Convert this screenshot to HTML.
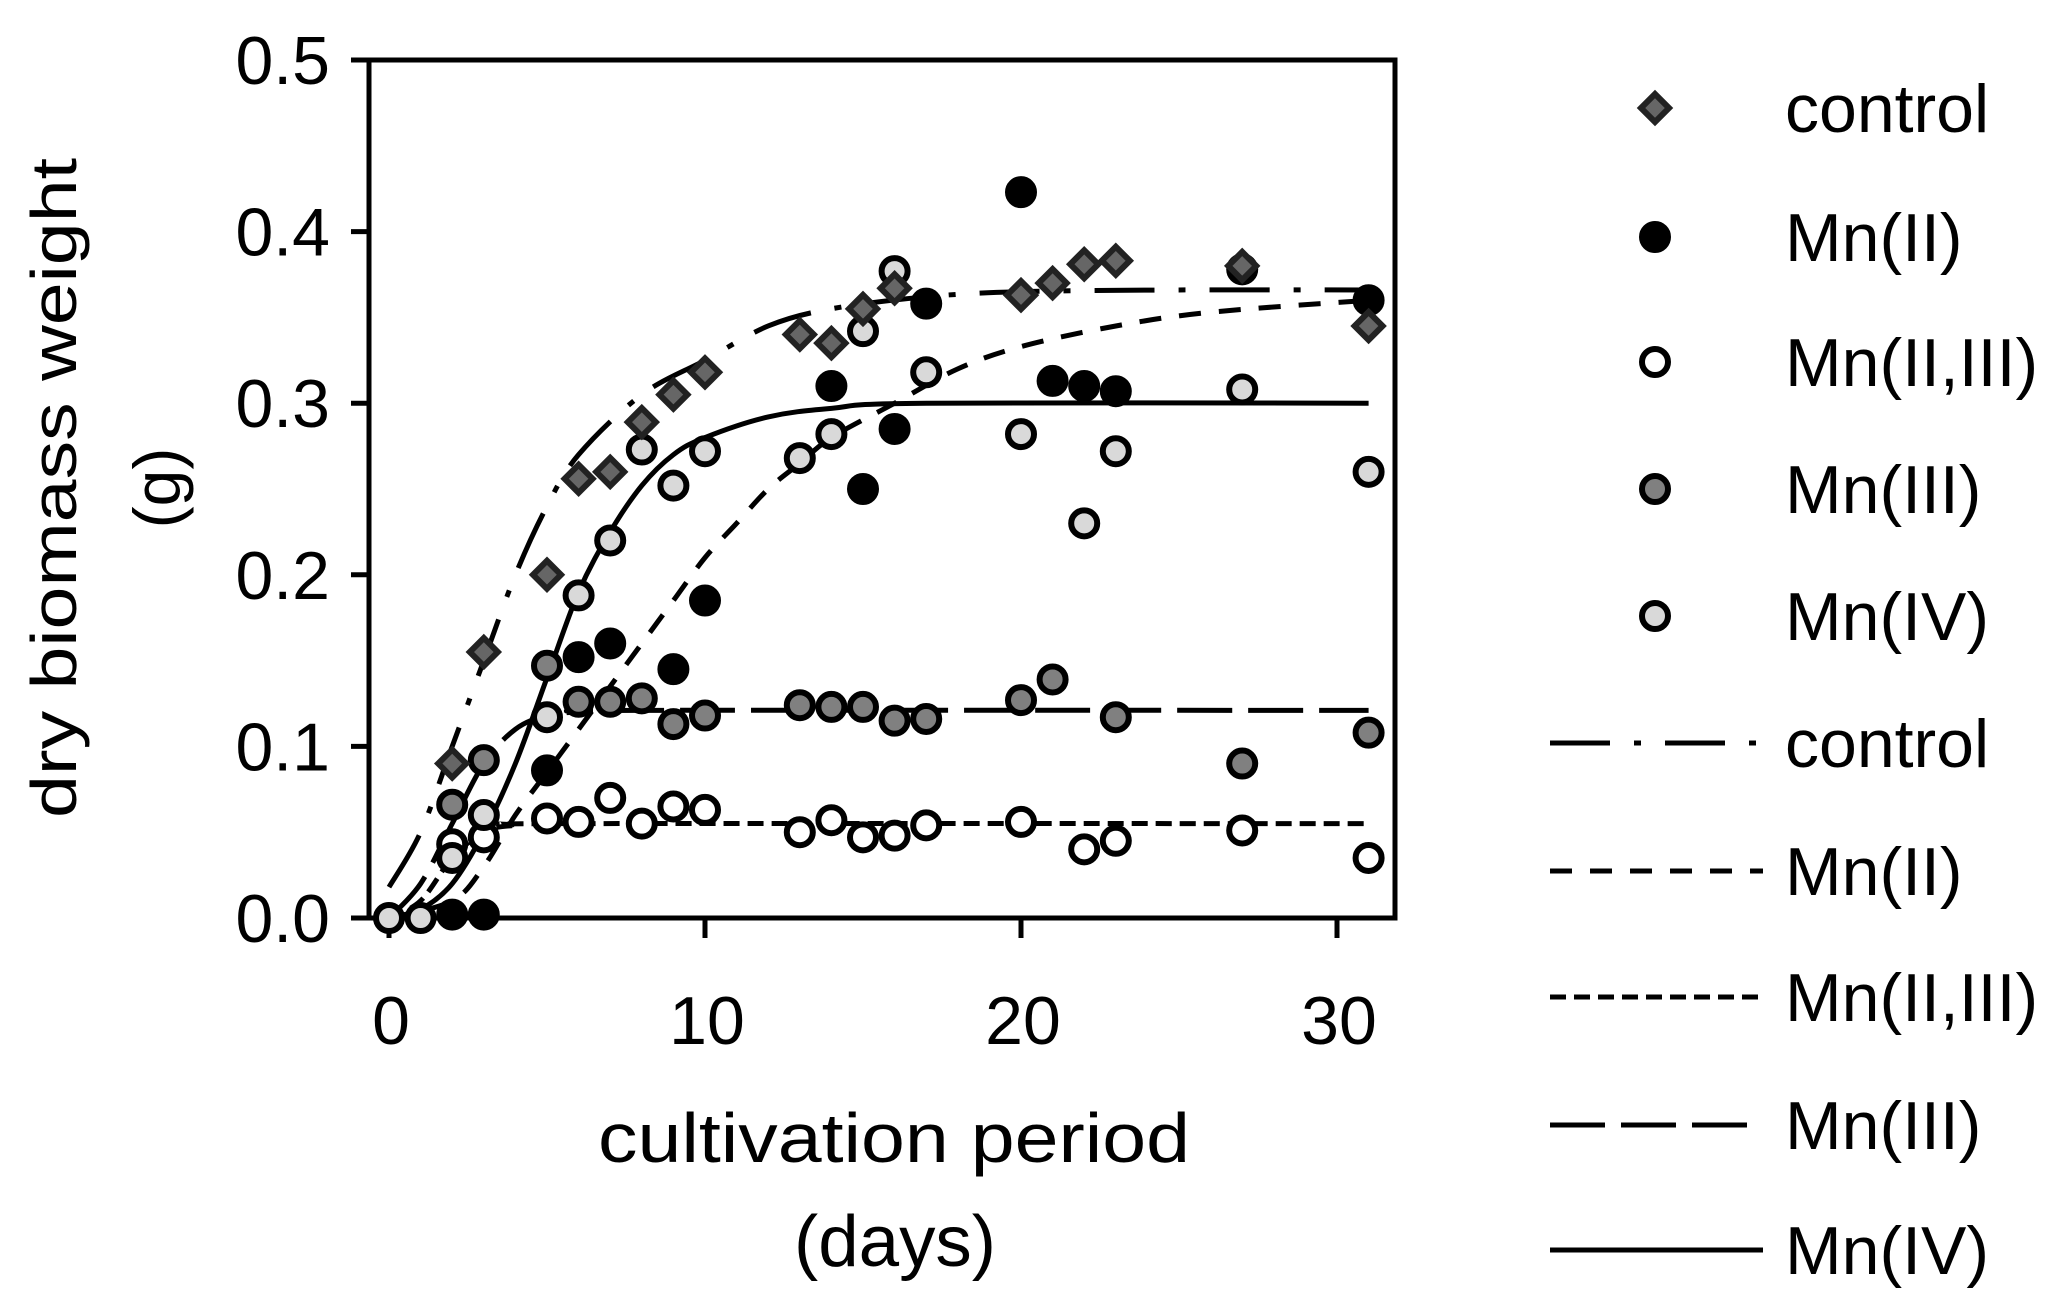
<!DOCTYPE html>
<html><head><meta charset="utf-8"><style>
html,body{margin:0;padding:0;background:#fff;}
svg{display:block;font-family:"Liberation Sans",sans-serif;}
</style></head><body>
<svg id="chart" width="2063" height="1306" viewBox="0 0 2063 1306">
<g id="plot"></g>
</svg>
<script>
const xTicks=[0,10,20,30];
const yTicks=[0.0,0.1,0.2,0.3,0.4,0.5];
const yTickLabels=["0.0","0.1","0.2","0.3","0.4","0.5"];
const ctrlX=[2,3,5,6,7,8,9,10,13,14,15,16,20,21,22,23,27,31];
const ctrlY=[0.09,0.155,0.2,0.256,0.26,0.289,0.305,0.318,0.34,0.335,0.355,0.367,0.363,0.37,0.381,0.383,0.38,0.345];
const mn2X=[2,3,5,6,7,9,10,14,15,16,17,20,21,22,23,27,31];
const mn2Y=[0.002,0.002,0.086,0.152,0.16,0.145,0.185,0.31,0.25,0.285,0.358,0.423,0.313,0.31,0.307,0.378,0.36];
const mn23X=[2,3,5,6,7,8,9,10,13,14,15,16,17,20,22,23,27,31];
const mn23Y=[0.043,0.047,0.058,0.056,0.07,0.055,0.065,0.063,0.05,0.057,0.047,0.048,0.054,0.056,0.04,0.045,0.051,0.035];
const mn3X=[2,3,5,6,7,8,9,10,13,14,15,16,17,20,21,23,27,31];
const mn3Y=[0.066,0.092,0.147,0.126,0.126,0.128,0.113,0.118,0.124,0.123,0.123,0.115,0.116,0.127,0.139,0.117,0.09,0.108];
const mn4X=[0,1,2,3,5,6,7,8,9,10,13,14,15,16,17,20,22,23,27,31];
const mn4Y=[0,0,0.035,0.06,0.117,0.188,0.22,0.273,0.252,0.272,0.268,0.282,0.342,0.377,0.318,0.282,0.23,0.272,0.308,0.26];
const fitCtrlX=[0,1,2,3,4,5,6,8,10,12,14,17,20,25,31];
const fitCtrlY=[0.018,0.05,0.1,0.15,0.2,0.24,0.27,0.305,0.325,0.345,0.355,0.362,0.365,0.366,0.366];
const fitMn2X=[0,2,3,4,5,6,7,8,9,10,11,12,13,14,16,18,20,23,26,31];
const fitMn2Y=[0,0.01,0.03,0.06,0.085,0.11,0.135,0.16,0.185,0.21,0.23,0.25,0.265,0.28,0.3,0.32,0.333,0.345,0.353,0.36];
const fitMn23X=[0,1,2,3,4,6,31];
const fitMn23Y=[0,0.01,0.035,0.05,0.054,0.055,0.055];
const fitMn3X=[0,1,2,3,4,5,6,8,31];
const fitMn3Y=[0,0.02,0.055,0.09,0.11,0.118,0.12,0.121,0.121];
const fitMn4X=[0,1,2,3,4,5,6,7,8,9,10,12,14,17,31];
const fitMn4Y=[0,0.005,0.02,0.05,0.09,0.14,0.19,0.225,0.252,0.27,0.28,0.292,0.297,0.3,0.3];

const NS="http://www.w3.org/2000/svg";
const L=369,R=1395,T=60,B=918,X0=389;
const sx=v=>X0+v*31.6;
const sy=v=>B-v*(B-T)/0.5;
const svg=document.getElementById('chart');
function mk(tag,attrs,parent){const e=document.createElementNS(NS,tag);for(const k in attrs)e.setAttribute(k,attrs[k]);(parent||svg).appendChild(e);return e;}

const box=mk('rect',{x:L,y:T,width:R-L,height:B-T,fill:'none',stroke:'#000','stroke-width':5});


yTicks.forEach((v,i)=>{
  const t=mk('line',{x1:L-18,x2:L,y1:sy(v),y2:sy(v),stroke:'#000','stroke-width':5});
  
  
  const tx=mk('text',{x:330,y:sy(v)+24,'text-anchor':'end','font-size':68});
  tx.textContent=yTickLabels[i];
  
  
});
xTicks.forEach(v=>{
  const t=mk('line',{x1:sx(v),x2:sx(v),y1:B,y2:B+20,stroke:'#000','stroke-width':5});
  
  
  const tx=mk('text',{x:sx(v)+2,y:1044,'text-anchor':'middle','font-size':68});
  tx.textContent=String(v);
  
  
});
const yt=mk('text',{transform:'translate(76,488) rotate(-90)','text-anchor':'middle','font-size':64,textLength:660,lengthAdjust:'spacingAndGlyphs'});
yt.textContent='dry biomass weight';


const yt2=mk('text',{transform:'translate(180,488) rotate(-90)','text-anchor':'middle','font-size':66});
yt2.textContent='(g)';


const xt=mk('text',{x:894,y:1162,'text-anchor':'middle','font-size':70,textLength:592,lengthAdjust:'spacingAndGlyphs'});
xt.textContent='cultivation period';


const xt2=mk('text',{x:895,y:1266,'text-anchor':'middle','font-size':72,textLength:202,lengthAdjust:'spacingAndGlyphs'});
xt2.textContent='(days)';



const dashes={ctrl:'60 24 7 24',mn2:'22 18',mn23:'16 8',mn3:'55 16',mn4:''};
const fits=[['ctrl',fitCtrlX,fitCtrlY],['mn2',fitMn2X,fitMn2Y],['mn23',fitMn23X,fitMn23Y],['mn3',fitMn3X,fitMn3Y],['mn4',fitMn4X,fitMn4Y]];
function smoothPath(xs,ys){
  const p=xs.map((x,i)=>[sx(x),sy(ys[i])]);
  let d='M'+p[0][0]+','+p[0][1];
  for(let i=0;i<p.length-1;i++){
    const p0=p[i-1]||p[i],p1=p[i],p2=p[i+1],p3=p[i+2]||p2;
    const c1=[p1[0]+(p2[0]-p0[0])/6,p1[1]+(p2[1]-p0[1])/6];
    const c2=[p2[0]-(p3[0]-p1[0])/6,p2[1]-(p3[1]-p1[1])/6];
    d+=' C'+c1+' '+c2+' '+p2;
  }
  return d;
}
fits.forEach(([k,xs,ys])=>{
  const a={d:smoothPath(xs,ys),fill:'none',stroke:'#000','stroke-width':5};
  if(dashes[k])a['stroke-dasharray']=dashes[k];
  const pth=mk('path',a);
  
  
});
const series=[['mn3',mn3X,mn3Y,'#808080','circle'],['mn23',mn23X,mn23Y,'#ffffff','circle'],['mn4',mn4X,mn4Y,'#d9d9d9','circle'],['mn2',mn2X,mn2Y,'#000000','circle'],['ctrl',ctrlX,ctrlY,'#666666','diamond']];
function marker(shape,cx,cy,fill){
  if(shape==='diamond'){
    const s=14;
    return mk('polygon',{points:`${cx},${cy-s} ${cx+s},${cy} ${cx},${cy+s} ${cx-s},${cy}`,fill:fill,stroke:'#222','stroke-width':6});
  }
  return mk('circle',{cx:cx,cy:cy,r:13,fill:fill,stroke:'#000','stroke-width':6});
}
series.forEach(([k,xs,ys,fill,shape])=>{
  xs.forEach((x,i)=>{
    const m=marker(shape,sx(x),sy(ys[i]),fill);
    
    
  });
});
const legMarkers=[['control','diamond','#666666',108],['Mn(II)','circle','#000000',237],['Mn(II,III)','circle','#ffffff',362],['Mn(III)','circle','#808080',489],['Mn(IV)','circle','#d9d9d9',616]];
legMarkers.forEach(([lab,shape,fill,y])=>{
  const m=marker(shape,1655,y,fill);
  
  
  const t=mk('text',{x:1785,y:y+24,'font-size':68});
  t.textContent=lab;
  
  
});
const legLines=[['control','ctrl',743],['Mn(II)','mn2',871],['Mn(II,III)','mn23',997],['Mn(III)','mn3',1125],['Mn(IV)','mn4',1250]];
legLines.forEach(([lab,k,y])=>{
  const a={x1:1550,x2:1763,y1:y,y2:y,stroke:'#000','stroke-width':5};
  if(dashes[k])a['stroke-dasharray']=dashes[k];
  const l=mk('line',a);
  
  
  const t=mk('text',{x:1785,y:y+24,'font-size':68});
  t.textContent=lab;
  
  
});
</script>
</body></html>
